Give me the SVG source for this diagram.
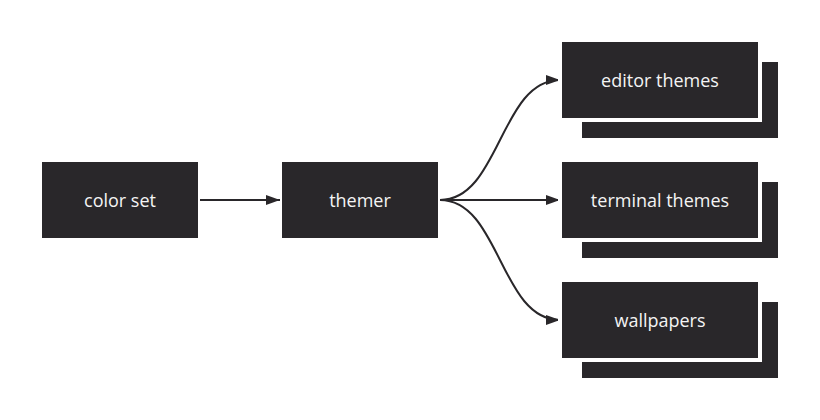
<svg xmlns="http://www.w3.org/2000/svg" width="820" height="420" viewBox="0 0 820 420">
<style>
.box{fill:#29272a}
.gap{fill:#ffffff}
.lbl{fill:#f4f4f4;font-family:"Open Sans","Noto Sans",sans-serif;font-size:18px;text-anchor:middle;dominant-baseline:central}
.edge{fill:none;stroke:#29272a;stroke-width:2}
</style>
<defs>
<marker id="arr" viewBox="0 0 14 10" refX="14" refY="5" markerWidth="14" markerHeight="10" markerUnits="userSpaceOnUse" orient="auto">
<path d="M0,0 L14,5 L0,10 Z" fill="#29272a"/>
</marker>
</defs>
<rect width="820" height="420" fill="#ffffff"/>
<g id="connectors">
<path class="edge" d="M200,200 L280,200" marker-end="url(#arr)"/>
<path class="edge" d="M440,200 C500,200 500,80 560,80" marker-end="url(#arr)"/>
<path class="edge" d="M440,200 L560,200" marker-end="url(#arr)"/>
<path class="edge" d="M440,200 C500,200 500,320 560,320" marker-end="url(#arr)"/>
</g>
<g id="color-set">
<rect class="box" x="42" y="162" width="156" height="76"/>
<text class="lbl" x="120" y="200">color set</text>
</g>
<g id="themer">
<rect class="box" x="282" y="162" width="156" height="76"/>
<text class="lbl" x="360" y="200">themer</text>
</g>
<g id="editor-themes">
<rect class="box" x="582" y="62" width="196" height="76"/>
<rect class="gap" x="558" y="38" width="204" height="84"/>
<rect class="box" x="562" y="42" width="196" height="76"/>
<text class="lbl" x="660" y="80">editor themes</text>
</g>
<g id="terminal-themes">
<rect class="box" x="582" y="182" width="196" height="76"/>
<rect class="gap" x="558" y="158" width="204" height="84"/>
<rect class="box" x="562" y="162" width="196" height="76"/>
<text class="lbl" x="660" y="200">terminal themes</text>
</g>
<g id="wallpapers">
<rect class="box" x="582" y="302" width="196" height="76"/>
<rect class="gap" x="558" y="278" width="204" height="84"/>
<rect class="box" x="562" y="282" width="196" height="76"/>
<text class="lbl" x="660" y="320">wallpapers</text>
</g>
</svg>
